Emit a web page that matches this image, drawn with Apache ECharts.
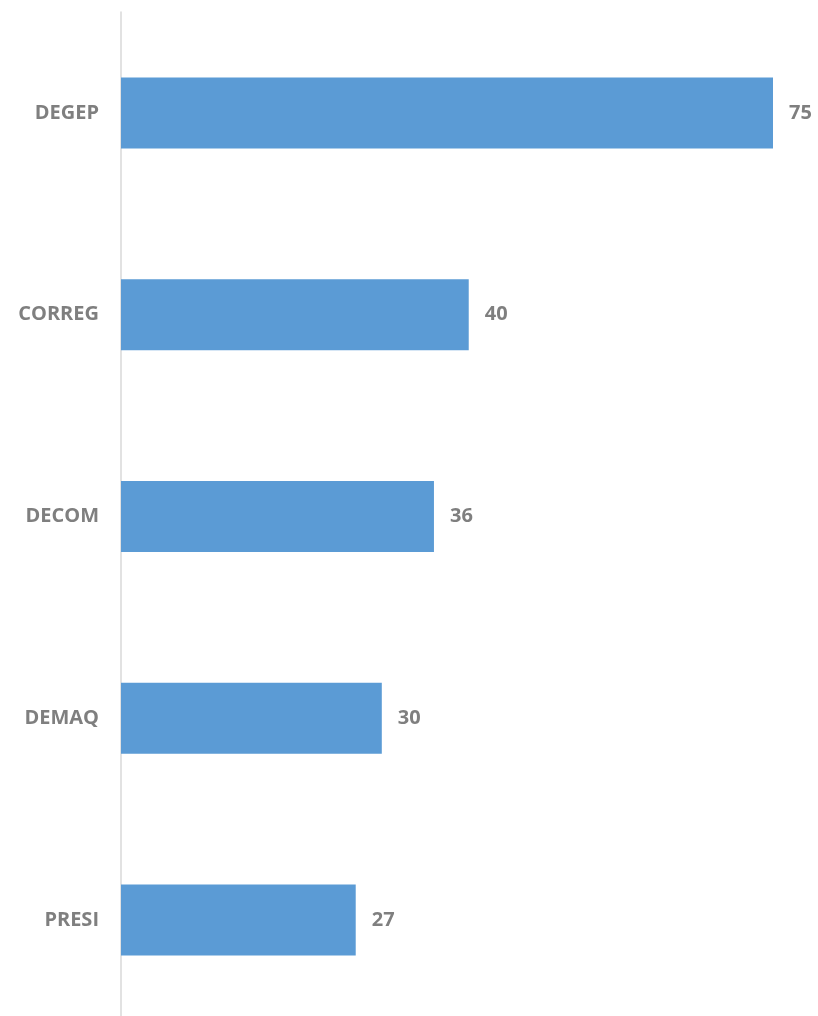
<!DOCTYPE html>
<html>
<head>
<meta charset="utf-8">
<script src="https://cdn.jsdelivr.net/npm/echarts@6/dist/echarts.min.js"></script>
<style>
html,body{margin:0;padding:0;background:#fff;overflow:hidden;}
#chart{width:818px;height:1022px;}
</style>
</head>
<body>
<div id="chart"></div>
<script>
const categories = ["DEGEP", "CORREG", "DECOM", "DEMAQ", "PRESI"];
const values = [75, 40, 36, 30, 27];

const chart = echarts.init(document.getElementById('chart'));
chart.setOption({
  animation: false,
  backgroundColor: '#ffffff',
  grid: { left: 121, top: 12, right: 45, bottom: 1, containLabel: false },
  xAxis: {
    type: 'value', min: 0, max: 75,
    show: false
  },
  yAxis: {
    type: 'category',
    data: categories,
    inverse: true,
    axisLine: { show: true, lineStyle: { color: '#d9d9d9', width: 1.5 } },
    axisTick: { show: false },
    axisLabel: {
      margin: 22,
      color: '#7f7f7f',
      fontFamily: '"Open Sans", "Liberation Sans", sans-serif',
      fontWeight: 'bold',
      fontSize: 20
    }
  },
  series: [{
    type: 'bar',
    data: values,
    barWidth: 71,
    itemStyle: { color: '#5b9bd5' },
    label: {
      show: true,
      position: 'right',
      distance: 16,
      color: '#7f7f7f',
      fontFamily: '"Open Sans", "Liberation Sans", sans-serif',
      fontWeight: 'bold',
      fontSize: 20
    }
  }]
});
</script>
</body>
</html>
